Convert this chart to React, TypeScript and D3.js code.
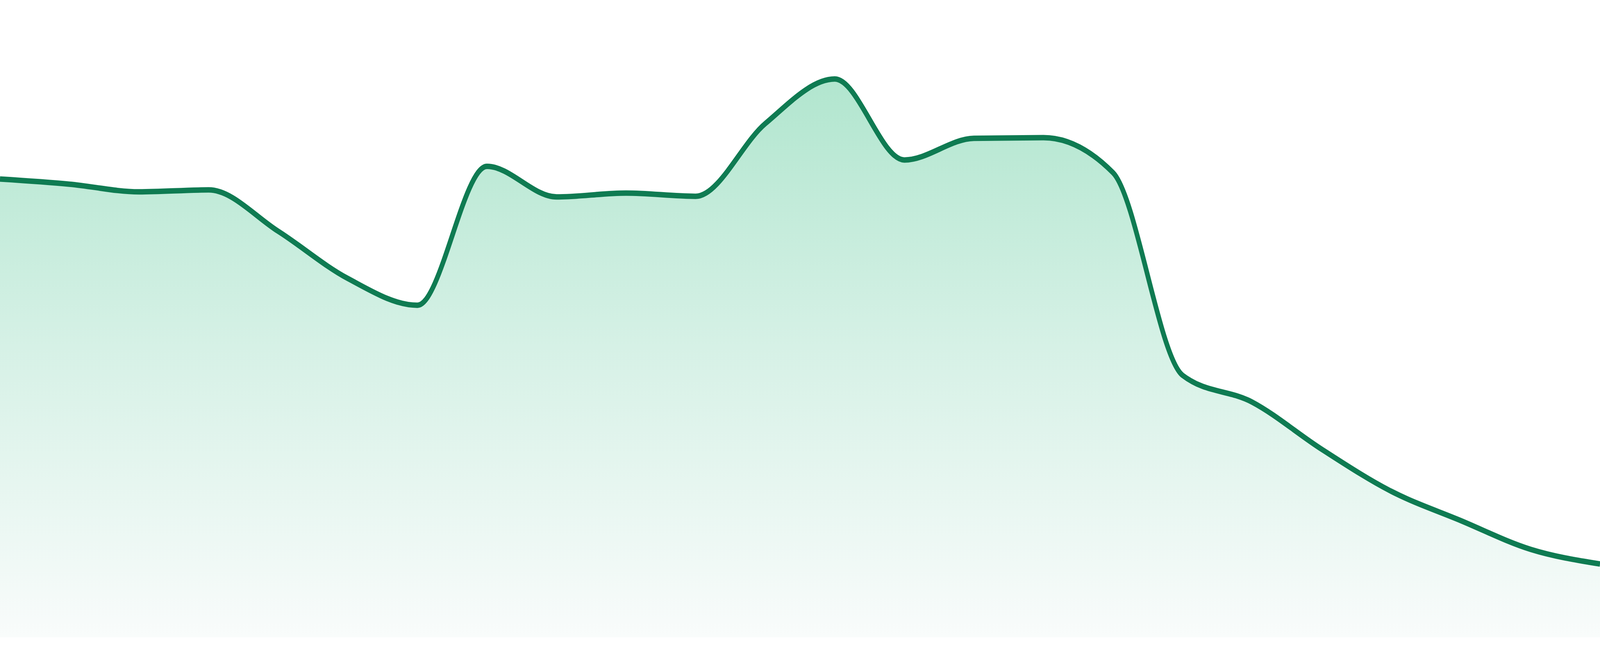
import React from "react";
import * as d3 from "d3";

const categories: string[] = [
  "P01", "P02", "P03", "P04", "P05", "P06", "P07", "P08",
  "P09", "P10", "P11", "P12", "P13", "P14", "P15", "P16",
  "P17", "P18", "P19", "P20", "P21", "P22", "P23", "P24",
];

const values: number[] = [
  71.9, 71.1, 69.9, 70.2, 63.7, 56.3, 52.1, 73.9,
  69.1, 69.7, 69.2, 80.6, 87.6, 74.9, 78.3, 78.4,
  72.9, 41.1, 36.9, 29.5, 22.9, 18.3, 13.8, 11.5,
];

const yDomain: [number, number] = [0, 100];

const WIDTH = 4800;
const HEIGHT = 1680;
const BOTTOM = 48;

export default function App() {
  const x = d3.scalePoint<string>().domain(categories).range([0, WIDTH]);
  const y = d3.scaleLinear().domain(yDomain).range([HEIGHT - BOTTOM, 0]);

  const data = categories.map((c, i) => ({ c, v: values[i] }));

  const area = d3
    .area<{ c: string; v: number }>()
    .x((d) => x(d.c) as number)
    .y0(y(0))
    .y1((d) => y(d.v))
    .curve(d3.curveMonotoneX);

  const line = d3
    .line<{ c: string; v: number }>()
    .x((d) => x(d.c) as number)
    .y((d) => y(d.v))
    .curve(d3.curveMonotoneX);

  const base = y(0);

  return (
    <svg
      viewBox={`0 0 ${WIDTH} ${HEIGHT}`}
      preserveAspectRatio="none"
      style={{
        position: "fixed",
        left: 0,
        top: 0,
        width: "100vw",
        height: "100vh",
        display: "block",
        background: "#ffffff",
      }}
    >
      <defs>
        <linearGradient id="areaFill" gradientUnits="userSpaceOnUse" x1={0} y1={0} x2={0} y2={base}>
          <stop offset="0" stopColor="#a9e2ca" />
          <stop offset="0.132" stopColor="#b2e6cf" />
          <stop offset="0.545" stopColor="#d6f1e6" />
          <stop offset="0.974" stopColor="#f7fbfa" />
          <stop offset="1" stopColor="#f9fcfb" />
        </linearGradient>
      </defs>
      <path d={area(data) ?? ""} fill="url(#areaFill)" stroke="none" />
      <path
        d={line(data) ?? ""}
        fill="none"
        stroke="#0f7b52"
        strokeWidth={14}
        strokeLinejoin="round"
      />
    </svg>
  );
}
